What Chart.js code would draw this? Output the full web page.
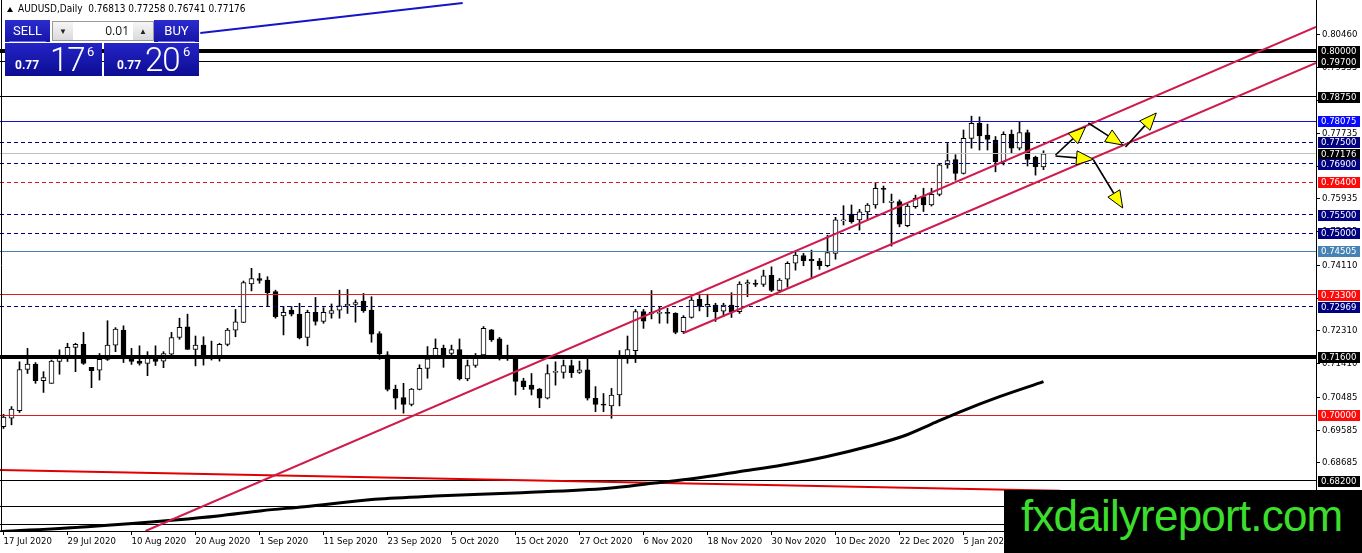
<!DOCTYPE html>
<html>
<head>
<meta charset="utf-8">
<script src="https://cdn.jsdelivr.net/npm/chart.js@4.4.0/dist/chart.umd.min.js"></script>
<style>
  html, body { margin: 0; padding: 0; background: #fff; }
  #wrap { position: relative; width: 1362px; height: 553px; overflow: hidden; }
  #c { position: absolute; left: 0; top: 0; }
  .ui { position: absolute; font-family: 'DejaVu Sans Condensed', 'DejaVu Sans', sans-serif; }
  #tri { left: 7px; top: 7px; width: 0; height: 0; border-left: 3px solid transparent; border-right: 3px solid transparent; border-bottom: 5px solid #000; }
  #hdr { left: 18px; top: 3px; font-size: 10px; color: #000; white-space: pre; }
  .tile { position: absolute; color: #fff; background: linear-gradient(#2b2bd0, #1515a6); font-family: Roboto, 'Open Sans', sans-serif; }
  .btn { height: 22px; top: 20px; width: 45px; font-size: 13px; line-height: 21px; text-align: center; }
  .btn i { position: absolute; left: 4px; right: 4px; bottom: 0; height: 1px; background: #6a6ae6; }
  .price { top: 43px; height: 33px; background: linear-gradient(#2424c8, #0c0c92); }
  .price .s { position: absolute; font-size: 12px; font-weight: bold; top: 15px; }
  .price .b { position: absolute; font-size: 33px; font-weight: 300; top: -3px; letter-spacing: -1px; }
  .price .u { position: absolute; font-size: 13px; top: 1px; }
  #lot { position: absolute; left: 52px; top: 21px; width: 100px; height: 18px; border: 1px solid #9a9a9a; background: #fff; font-family: 'Open Sans', sans-serif; }
  #lot .a { position: absolute; top: 0; width: 20px; height: 18px; background: linear-gradient(#f6f6f6, #dadada); font-size: 8px; line-height: 18px; text-align: center; color: #222; }
  #lot .v { position: absolute; right: 24px; top: 0; font-size: 12px; line-height: 18px; color: #111; }
  #mark { left: 1004px; top: 490px; width: 358px; height: 63px; background: #000; }
  #mark span { position: absolute; left: 17px; top: 4px; font-family: 'Liberation Sans', Arial, sans-serif; font-size: 44px; line-height: 44px; letter-spacing: -0.8px; color: #3cde2c; }
</style>
</head>
<body>
<div id="wrap">
  <canvas id="c" width="1362" height="553"></canvas>
  <div class="ui" id="tri"></div>
  <div class="ui" id="hdr">AUDUSD,Daily  0.76813 0.77258 0.76741 0.77176</div>
  <div class="tile btn" style="left:5px">SELL<i></i></div>
  <div id="lot"><div class="a" style="left:0">&#9660;</div><div class="v">0.01</div><div class="a" style="right:0">&#9650;</div></div>
  <div class="tile btn" style="left:154px">BUY<i></i></div>
  <div class="tile price" style="left:5px;width:97px"><span class="s" style="left:10px">0.77</span><span class="b" style="left:45px">17</span><span class="u" style="left:82px">6</span></div>
  <div class="tile price" style="left:104px;width:95px"><span class="s" style="left:13px">0.77</span><span class="b" style="left:41px">20</span><span class="u" style="left:79px">6</span></div>
  <div class="ui" id="mark"><span>fxdailyreport.com</span></div>
</div>
<script>
const FONT = "'DejaVu Sans Condensed', 'DejaVu Sans', sans-serif";

// daily candles, 17 Jul 2020 .. 19 Jan 2021 (bar index 0..130)
const opens = [
  0.6968, 0.6991, 0.7012, 0.7125, 0.7140, 0.7094, 0.7087, 0.7147, 0.7160, 0.7186,
  0.7194, 0.7131, 0.7123, 0.7153, 0.7192, 0.7233, 0.7154, 0.7148, 0.7142, 0.7154,
  0.7148, 0.7167, 0.7213, 0.7242, 0.7180, 0.7192, 0.7162, 0.7160, 0.7194, 0.7233,
  0.7254, 0.7360, 0.7375, 0.7371, 0.7339, 0.7272, 0.7288, 0.7277, 0.7213, 0.7282,
  0.7257, 0.7279, 0.7288, 0.7300, 0.7304, 0.7313, 0.7288, 0.7224, 0.7165, 0.7071,
  0.7048, 0.7029, 0.7070, 0.7128, 0.7163, 0.7183, 0.7169, 0.7180, 0.7099, 0.7136,
  0.7165, 0.7234, 0.7209, 0.7160, 0.7156, 0.7094, 0.7082, 0.7071, 0.7046, 0.7117,
  0.7117, 0.7136, 0.7117, 0.7124, 0.7046, 0.7029, 0.7025, 0.7055, 0.7160, 0.7177,
  0.7284, 0.7282, 0.7279, 0.7282, 0.7279, 0.7229, 0.7268, 0.7318, 0.7298, 0.7302,
  0.7285, 0.7302, 0.7284, 0.7360, 0.7362, 0.7359, 0.7384, 0.7342, 0.7373, 0.7417,
  0.7438, 0.7428, 0.7423, 0.7410, 0.7444, 0.7533, 0.7552, 0.7536, 0.7558, 0.7577,
  0.7623, 0.7584, 0.7586, 0.7520, 0.7572, 0.7600, 0.7577, 0.7606, 0.7687, 0.7702,
  0.7664, 0.7760, 0.7801, 0.7769, 0.7755, 0.7696, 0.7771, 0.7733, 0.7776, 0.7708,
  0.76813
];
const highs = [
  0.7002, 0.7023, 0.7146, 0.7183, 0.7144, 0.7119, 0.7151, 0.7179, 0.7197, 0.7197,
  0.7227, 0.7131, 0.7169, 0.7259, 0.7240, 0.7245, 0.7183, 0.7190, 0.7174, 0.7190,
  0.7174, 0.7227, 0.7266, 0.7277, 0.7217, 0.7215, 0.7203, 0.7197, 0.7238, 0.7290,
  0.7368, 0.7403, 0.7389, 0.7380, 0.7343, 0.7298, 0.7298, 0.7307, 0.7288, 0.7323,
  0.7295, 0.7305, 0.7343, 0.7345, 0.7316, 0.7334, 0.7325, 0.7229, 0.7174, 0.7082,
  0.7087, 0.7073, 0.7138, 0.7188, 0.7209, 0.7192, 0.7192, 0.7209, 0.7151, 0.7169,
  0.7243, 0.7235, 0.7213, 0.7192, 0.7160, 0.7101, 0.7114, 0.7073, 0.7138, 0.7146,
  0.7151, 0.7151, 0.7148, 0.7156, 0.7078, 0.7059, 0.7073, 0.7177, 0.7217, 0.7290,
  0.7290, 0.7342, 0.7296, 0.7293, 0.7281, 0.7273, 0.7323, 0.7332, 0.7332, 0.7307,
  0.7307, 0.7336, 0.7366, 0.7371, 0.7371, 0.7398, 0.7407, 0.7375, 0.7421, 0.7449,
  0.7444, 0.7453, 0.7430, 0.7494, 0.7543, 0.7575, 0.7577, 0.7565, 0.7581, 0.7639,
  0.7629, 0.7607, 0.7591, 0.7580, 0.7604, 0.7623, 0.7623, 0.7689, 0.7746, 0.7715,
  0.7783, 0.7821, 0.7819, 0.7799, 0.7765, 0.7778, 0.7783, 0.7806, 0.7783, 0.7711,
  0.77258
];
const lows = [
  0.6963, 0.6973, 0.7007, 0.7114, 0.7087, 0.7062, 0.7087, 0.7112, 0.7147, 0.7119,
  0.7139, 0.7075, 0.7096, 0.7150, 0.7174, 0.7144, 0.7139, 0.7137, 0.7108, 0.7136,
  0.7130, 0.7165, 0.7208, 0.7180, 0.7135, 0.7137, 0.7151, 0.7148, 0.7190, 0.7215,
  0.7254, 0.7341, 0.7362, 0.7299, 0.7266, 0.7220, 0.7272, 0.7209, 0.7190, 0.7247,
  0.7252, 0.7266, 0.7266, 0.7279, 0.7255, 0.7282, 0.7200, 0.7153, 0.7066, 0.7016,
  0.7005, 0.7025, 0.7069, 0.7101, 0.7162, 0.7131, 0.7162, 0.7096, 0.7094, 0.7131,
  0.7163, 0.7202, 0.7151, 0.7150, 0.7055, 0.7070, 0.7055, 0.7020, 0.7044, 0.7082,
  0.7101, 0.7103, 0.7114, 0.7041, 0.7009, 0.7009, 0.6991, 0.7025, 0.7142, 0.7144,
  0.7238, 0.7264, 0.7252, 0.7252, 0.7223, 0.7224, 0.7266, 0.7286, 0.7270, 0.7257,
  0.7270, 0.7268, 0.7279, 0.7325, 0.7353, 0.7353, 0.7339, 0.7337, 0.7351, 0.7398,
  0.7410, 0.7375, 0.7400, 0.7407, 0.7428, 0.7522, 0.7527, 0.7508, 0.7536, 0.7568,
  0.7583, 0.7464, 0.7517, 0.7517, 0.7568, 0.7559, 0.7574, 0.7602, 0.7678, 0.7645,
  0.7662, 0.7733, 0.7728, 0.7728, 0.7668, 0.7687, 0.7719, 0.7728, 0.7684, 0.7659,
  0.76741
];
const closes = [
  0.6994, 0.7016, 0.7125, 0.7140, 0.7094, 0.7103, 0.7148, 0.7157, 0.7186, 0.7194,
  0.7142, 0.7122, 0.7153, 0.7192, 0.7236, 0.7165, 0.7147, 0.7142, 0.7156, 0.7147,
  0.7169, 0.7213, 0.7241, 0.7180, 0.7192, 0.7160, 0.7158, 0.7194, 0.7233, 0.7256,
  0.7364, 0.7375, 0.7370, 0.7336, 0.7270, 0.7282, 0.7277, 0.7212, 0.7282, 0.7257,
  0.7282, 0.7287, 0.7300, 0.7304, 0.7309, 0.7286, 0.7222, 0.7168, 0.7070, 0.7046,
  0.7029, 0.7071, 0.7128, 0.7154, 0.7183, 0.7165, 0.7180, 0.7099, 0.7136, 0.7156,
  0.7238, 0.7206, 0.7165, 0.7156, 0.7092, 0.7078, 0.7070, 0.7046, 0.7114, 0.7119,
  0.7136, 0.7116, 0.7124, 0.7046, 0.7029, 0.7027, 0.7055, 0.7156, 0.7180, 0.7284,
  0.7258, 0.7279, 0.7282, 0.7279, 0.7227, 0.7268, 0.7316, 0.7298, 0.7304, 0.7284,
  0.7302, 0.7284, 0.7360, 0.7364, 0.7359, 0.7382, 0.7342, 0.7371, 0.7417, 0.7439,
  0.7424, 0.7423, 0.7410, 0.7446, 0.7536, 0.7536, 0.7531, 0.7558, 0.7577, 0.7623,
  0.7620, 0.7588, 0.7524, 0.7574, 0.7595, 0.7577, 0.7606, 0.7687, 0.7699, 0.7664,
  0.7760, 0.7801, 0.7767, 0.7757, 0.7696, 0.7771, 0.7733, 0.7776, 0.7702, 0.7682,
  0.77176
];
const barIndex = opens.map((_, i) => i);

// time axis labels, every 8 bars
const tickBars = [0, 8, 16, 24, 32, 40, 48, 56, 64, 72, 80, 88, 96, 104, 112, 120];
const tickDates = ['17 Jul 2020', '29 Jul 2020', '10 Aug 2020', '20 Aug 2020', '1 Sep 2020', '11 Sep 2020',
  '23 Sep 2020', '5 Oct 2020', '15 Oct 2020', '27 Oct 2020', '6 Nov 2020', '18 Nov 2020',
  '30 Nov 2020', '10 Dec 2020', '22 Dec 2020', '5 Jan 2021'];

// price axis labels
const priceTicks = [0.80460, 0.79535, 0.78635, 0.77735, 0.76835, 0.75935, 0.75035,
  0.74110, 0.73210, 0.72310, 0.71410, 0.70485, 0.69585, 0.68685];

// horizontal levels
const levels = [0.80000, 0.79700, 0.78750, 0.78075, 0.77500, 0.77176, 0.76900, 0.76400, 0.75500,
  0.75000, 0.74505, 0.73300, 0.72969, 0.71600, 0.70000, 0.68200, 0.67500, 0.67000];

// drawn objects, [bar index, price]
const upperChannel = [[17.75, 0.66813], [164.06, 0.80659]];
const lowerChannel = [[85.0, 0.72253], [164.06, 0.79670]];
const blueTrend = [[24.6, 0.80495], [57.4, 0.81319]];
const maBars = [-0.4, 10.5, 21.4, 26.8, 32.3, 37.6, 46.4, 53.9, 64.8, 75.6, 81.1, 86.5, 91.9, 97.4,
  102.8, 108.3, 112.6, 116.0, 119.5, 124.5, 130];
const maValues = [0.66794, 0.66931, 0.67115, 0.67225, 0.67371, 0.67481, 0.67684, 0.67775, 0.67865,
  0.67986, 0.68124, 0.68261, 0.68442, 0.68626, 0.68854, 0.69148, 0.69430, 0.69750, 0.70080, 0.70503, 0.70915];
const slowBars = [-0.44, 132.1];
const slowValues = [0.68489, 0.67920];
const arrowFrom = [[131.5, 0.77143], [135.6, 0.78022], [140.25, 0.77363], [131.5, 0.77115], [136.25, 0.77005]];
const arrowTo = [[135.25, 0.77912], [139.9, 0.77418], [144.1, 0.78297], [136.25, 0.77025], [139.9, 0.75687]];

// looks for the levels (same order as levels)
const NAVY = '#000080';
const levelLook = [
  { line: '#000', w: 4, box: '#000' },
  { line: '#000', w: 1, box: '#000' },
  { line: '#000', w: 1, box: '#000' },
  { line: '#1212c8', w: 1, box: '#0a0aff' },
  { line: NAVY, w: 1, dash: [4, 3], box: NAVY },
  { line: '#c0c0c0', w: 1, box: '#000' },
  { line: NAVY, w: 1, dash: [4, 3], box: NAVY },
  { line: '#dc1414', w: 1, dash: [4, 3], box: '#ff0a0a' },
  { line: NAVY, w: 1, dash: [4, 3], box: NAVY },
  { line: NAVY, w: 1, dash: [4, 3], box: NAVY },
  { line: '#4682b4', w: 1, box: '#4682b4' },
  { line: '#dc1e1e', w: 1, box: '#ff0a0a' },
  { line: NAVY, w: 1, dash: [4, 3], box: NAVY },
  { line: '#000', w: 4, box: '#000' },
  { line: '#dc1e1e', w: 1, box: '#ff0a0a' },
  { line: '#000', w: 1, box: '#000' },
  { line: '#000', w: 1, box: '#000' },
  { line: '#000', w: 1, box: '#000' }
];

const xMin = -0.4375, xMax = 164.0625;
const yMin = 0.668132, yMax = 0.814011;
const pts = (arr) => arr.map(p => ({ x: p[0], y: p[1] }));

const levelPlugin = {
  id: 'levels',
  afterDatasetDraw(chart, args) {
    if (args.index !== 1) return;
    const { ctx, chartArea: a, scales: { y } } = chart;
    ctx.save();
    ctx.beginPath();
    ctx.rect(a.left, a.top, a.right - a.left, a.bottom - a.top);
    ctx.clip();
    levels.forEach((v, k) => {
      const lk = levelLook[k];
      let py = y.getPixelForValue(v);
      py = lk.w % 2 ? Math.round(py - 0.5) + 0.5 : Math.round(py);
      ctx.strokeStyle = lk.line;
      ctx.lineWidth = lk.w;
      ctx.setLineDash(lk.dash || []);
      ctx.beginPath();
      ctx.moveTo(a.left, py);
      ctx.lineTo(a.right, py);
      ctx.stroke();
    });
    ctx.restore();
  },
  afterDatasetsDraw(chart) {
    const { ctx, scales: { x, y } } = chart;
    ctx.save();
    arrowFrom.forEach((f, k) => {
      const t = arrowTo[k];
      const x1 = x.getPixelForValue(f[0]), y1 = y.getPixelForValue(f[1]);
      const x2 = x.getPixelForValue(t[0]), y2 = y.getPixelForValue(t[1]);
      const ang = Math.atan2(y2 - y1, x2 - x1);
      const len = 17, half = 7;
      const bx = x2 - len * Math.cos(ang), by = y2 - len * Math.sin(ang);
      ctx.strokeStyle = '#000';
      ctx.lineWidth = 1.6;
      ctx.beginPath();
      ctx.moveTo(x1, y1);
      ctx.lineTo(bx, by);
      ctx.stroke();
      ctx.beginPath();
      ctx.moveTo(x2, y2);
      ctx.lineTo(bx + half * Math.sin(ang), by - half * Math.cos(ang));
      ctx.lineTo(bx - half * Math.sin(ang), by + half * Math.cos(ang));
      ctx.closePath();
      ctx.fillStyle = '#ffff00';
      ctx.fill();
      ctx.lineWidth = 1;
      ctx.stroke();
    });
    ctx.restore();
  },
  afterDraw(chart) {
    const { ctx, chartArea: a, scales: { y } } = chart;
    ctx.save();
    // window frame on the left
    ctx.strokeStyle = '#000';
    ctx.lineWidth = 1;
    ctx.beginPath();
    ctx.moveTo(1.5, 0);
    ctx.lineTo(1.5, a.bottom);
    ctx.stroke();
    ctx.font = '9.5px ' + FONT;
    ctx.textBaseline = 'middle';
    levels.forEach((v, k) => {
      const py = Math.round(y.getPixelForValue(v));
      ctx.fillStyle = levelLook[k].box;
      ctx.fillRect(a.right + 2, py - 5, 42, 11);
      ctx.fillStyle = '#fff';
      ctx.fillText(v.toFixed(5), a.right + 5, py + 0.5);
    });
    ctx.restore();
  }
};

new Chart(document.getElementById('c'), {
  type: 'bar',
  data: {
    datasets: [
      {
        label: 'wick',
        data: barIndex.map(i => ({ x: i, y: [lows[i], highs[i]] })),
        backgroundColor: '#000',
        barThickness: 1,
        grouped: false,
        minBarLength: 1,
        order: 3
      },
      {
        label: 'body',
        data: barIndex.map(i => ({ x: i, y: [opens[i], closes[i]] })),
        backgroundColor: barIndex.map(i => closes[i] >= opens[i] ? '#fff' : '#000'),
        borderColor: '#000',
        borderWidth: 1,
        borderSkipped: false,
        barThickness: 5,
        grouped: false,
        minBarLength: 1,
        order: 2
      },
      { type: 'line', data: pts(upperChannel), borderColor: '#cf1a4c', borderWidth: 2, pointRadius: 0, order: 1 },
      { type: 'line', data: pts(lowerChannel), borderColor: '#cf1a4c', borderWidth: 2, pointRadius: 0, order: 1 },
      { type: 'line', data: pts(blueTrend), borderColor: '#1414c8', borderWidth: 2, pointRadius: 0, order: 1 },
      { type: 'line', data: maBars.map((b, i) => ({ x: b, y: maValues[i] })), borderColor: '#000', borderWidth: 3,
        pointRadius: 0, cubicInterpolationMode: 'monotone', order: 1 },
      { type: 'line', data: slowBars.map((b, i) => ({ x: b, y: slowValues[i] })), borderColor: '#e00000', borderWidth: 2,
        pointRadius: 0, order: 1 }
    ]
  },
  options: {
    responsive: false,
    animation: false,
    events: [],
    layout: { padding: 0 },
    plugins: { legend: { display: false }, tooltip: { enabled: false } },
    scales: {
      x: {
        type: 'linear', min: xMin, max: xMax, offset: false,
        afterFit(s) { s.height = 22; s.paddingLeft = 0; s.paddingRight = 0; },
        afterBuildTicks(s) { s.ticks = tickBars.map(v => ({ value: v })); },
        ticks: {
          callback: v => tickDates[tickBars.indexOf(v)],
          align: 'start', maxRotation: 0, autoSkip: false, padding: 1,
          color: '#000', font: { family: FONT, size: 9.5 }
        },
        grid: { drawOnChartArea: false, tickLength: 4, color: '#000', offset: false },
        border: { color: '#000' }
      },
      y: {
        type: 'linear', position: 'right', min: yMin, max: yMax,
        afterFit(s) { s.width = 46; s.paddingTop = 0; s.paddingBottom = 0; },
        afterBuildTicks(s) { s.ticks = priceTicks.map(v => ({ value: v })); },
        ticks: {
          callback: v => v.toFixed(5), padding: 2,
          color: '#000', font: { family: FONT, size: 9.5 }
        },
        grid: { drawOnChartArea: false, tickLength: 4, color: '#000' },
        border: { color: '#000' }
      }
    }
  },
  plugins: [levelPlugin]
});
</script>
</body>
</html>
